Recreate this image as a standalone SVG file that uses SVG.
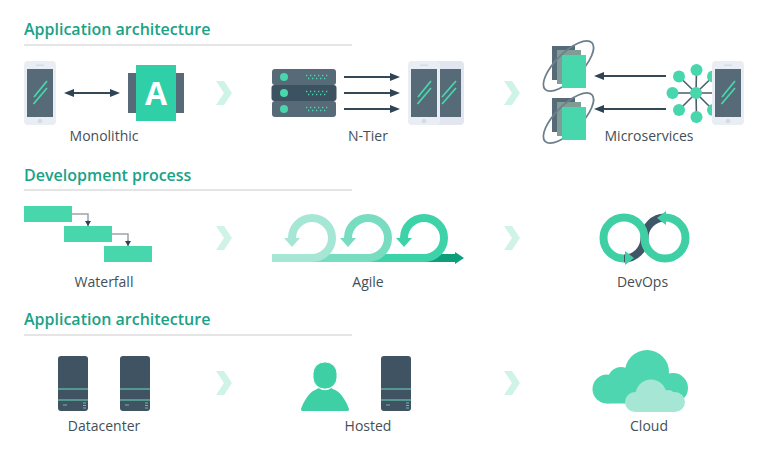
<svg xmlns="http://www.w3.org/2000/svg" xmlns:xlink="http://www.w3.org/1999/xlink" width="770" height="450" viewBox="0 0 770 450">
<style>
text{font-family:"Open Sans","Noto Sans",sans-serif}
.title{font-size:16px;font-weight:600;fill:#1aa287}
.label{font-size:14px;fill:#434f57;text-anchor:middle}
.rule{stroke:#dcdcdc;stroke-width:1.5;fill:none}
.chev{fill:#d0f3e8}
.arrow{stroke:#33495a;stroke-width:2;fill:none}
.green{fill:#48d6ad}
.slate{fill:#566a78}
</style>
<defs>
<marker id="head" markerUnits="userSpaceOnUse" markerWidth="10" markerHeight="8" refX="0" refY="4" orient="auto-start-reverse" viewBox="0 0 10 8"><path d="M0 0L10 4L0 8Z" fill="#2f4454"/></marker>
<marker id="small" markerUnits="userSpaceOnUse" markerWidth="5" markerHeight="7" refX="5" refY="3" orient="auto" viewBox="0 0 5 6"><path d="M0 0L5 3L0 6Z" fill="#2f4454"/></marker>
<g id="phone">
<rect x="0" y="0" width="32" height="64" rx="4" fill="#e9edf4"/>
<rect x="3" y="8" width="26" height="48" fill="#566a78"/>
<rect x="12" y="3.5" width="8" height="1.5" rx=".7" fill="#d5dbe4"/>
<circle cx="16" cy="60" r="2.3" fill="#d5dbe4"/>
<path d="M10 36L23 20M9.500 43L23 27" stroke="#48d6ad" stroke-width="1.800" fill="none"/>
</g>
<polygon id="chevron" points="0,0 8,0 16,12 8,24 0,24 8,12"/>
<g id="tower">
<rect width="30" height="55" rx="3" fill="#3f5362"/>
<path d="M0 33H30M0 44H30" stroke="#5fae9f" stroke-width="1.5"/>
<path d="M5 49H9M25 47H28M25 49.500H28M25 52H28" stroke="#6fbcae" stroke-width="1"/>
</g>
<g id="doc">
<rect x="0" y="0" width="23" height="34" fill="#566a78"/>
<rect x="5" y="4" width="24" height="34" fill="#7f9c96"/>
<ellipse cx="16.500" cy="20" rx="33" ry="13" transform="rotate(-45 16.500 20)" fill="none" stroke="#6c808c" stroke-width="1.800"/>
<rect x="10" y="9" width="24" height="33" fill="#48d6ad"/>
</g>
</defs>

<g id="headings">
<text class="title" x="24" y="35">Application architecture</text>
<path class="rule" d="M24 45H352"/>
<text class="title" x="24" y="181">Development process</text>
<path class="rule" d="M24 190H352"/>
<text class="title" x="24" y="325">Application architecture</text>
<path class="rule" d="M24 335H352"/>
</g>

<g id="chevrons" class="chev">
<use xlink:href="#chevron" href="#chevron" x="216" y="81"/>
<use xlink:href="#chevron" href="#chevron" x="504" y="81"/>
<use xlink:href="#chevron" href="#chevron" x="216" y="226"/>
<use xlink:href="#chevron" href="#chevron" x="504" y="226"/>
<use xlink:href="#chevron" href="#chevron" x="216" y="371"/>
<use xlink:href="#chevron" href="#chevron" x="504" y="371"/>
</g>

<g id="connectors">
<path class="arrow" d="M74 93H110" marker-start="url(#head)" marker-end="url(#head)"/>
<path class="arrow" d="M344 77H390" marker-end="url(#head)"/>
<path class="arrow" d="M344 93H390" marker-end="url(#head)"/>
<path class="arrow" d="M344 109H390" marker-end="url(#head)"/>
<path class="arrow" d="M666 76H604" marker-end="url(#head)"/>
<path class="arrow" d="M666 109H604" marker-end="url(#head)"/>
<path d="M72 214H88V220" fill="none" stroke="#9aa5ab" stroke-width="1.500"/>
<path d="M88 220V226" fill="none" stroke="#2f4454" stroke-width="1" marker-end="url(#small)"/>
<path d="M112 234H128V240" fill="none" stroke="#9aa5ab" stroke-width="1.500"/>
<path d="M128 240V246" fill="none" stroke="#2f4454" stroke-width="1" marker-end="url(#small)"/>
</g>

<g id="monolithic">
<use xlink:href="#phone" href="#phone" x="24" y="61"/>
<rect class="slate" x="128" y="73" width="56" height="40"/>
<rect x="136" y="65" width="40" height="56" fill="#2fd0a7"/>
<text x="156" y="105" font-size="32" font-weight="700" fill="#fff" text-anchor="middle">A</text>
<text class="label" x="104" y="141">Monolithic</text>
</g>

<g id="n-tier">
<rect x="272" y="69" width="64" height="16" rx="3" fill="#566a78"/>
<rect x="272" y="101" width="64" height="16" rx="3" fill="#566a78"/>
<rect x="271.500" y="85" width="65" height="16" rx="3" fill="#3d5260"/>
<g class="green">
<circle cx="284" cy="77" r="4"/><circle cx="284" cy="93" r="4"/><circle cx="284" cy="109" r="4"/>
</g>
<path d="M306 75.500H328M308 78.500H328M306 91.500H328M308 94.500H328M306 107.500H328M308 110.500H328" stroke="#48d6ad" stroke-width="1.300" stroke-dasharray="1.300 2.700" fill="none"/>
<rect x="432" y="61" width="32" height="64" rx="4" fill="#e1e6f0"/>
<rect x="438" y="69" width="23" height="48" fill="#566a78"/>
<path d="M442 97L456 81M442 104L456 88" stroke="#48d6ad" stroke-width="1.800" fill="none"/>
<use xlink:href="#phone" href="#phone" x="408" y="61"/>
<text class="label" x="368" y="141">N-Tier</text>
</g>

<g id="microservices">
<use xlink:href="#doc" href="#doc" x="552" y="46"/>
<use xlink:href="#doc" href="#doc" x="552" y="98"/>
<path d="M696 93L696.500 70M696 93L679 76.500M696 93H672.500M696 93L679 110M696 93L696.500 117M696 93L713 76.500M696 93H714M696 93L713 110" stroke="#4a5f6d" stroke-width="1.600" fill="none"/>
<g class="green">
<circle cx="696" cy="93" r="6"/><circle cx="696.500" cy="70" r="6"/><circle cx="679" cy="76.500" r="6"/><circle cx="672.500" cy="93" r="6"/><circle cx="679" cy="110" r="6"/><circle cx="696.500" cy="117" r="6"/><circle cx="713" cy="76.500" r="6"/><circle cx="713" cy="110" r="6"/>
</g>
<use xlink:href="#phone" href="#phone" x="712" y="61"/>
<text class="label" x="649" y="141">Microservices</text>
</g>

<g id="waterfall">
<rect class="green" x="24" y="206" width="48" height="16"/>
<rect class="green" x="64" y="226" width="48" height="16"/>
<rect class="green" x="104" y="246" width="48" height="16"/>
<text class="label" x="104" y="287">Waterfall</text>
</g>

<g id="agile" fill="none" stroke-width="8">
<path d="M424 258H456" stroke="#0f9e7c"/>
<polygon points="455,252 464,258 455,264" fill="#0f9e7c"/>
<path d="M404 238A20 20 0 1 1 424 258H368" stroke="#3ed2a8"/>
<polygon points="396,238 412,238 404,247" fill="#3ed2a8"/>
<path d="M348 238A20 20 0 1 1 368 258H312" stroke="#78ddc0"/>
<polygon points="340,238 356,238 348,247" fill="#78ddc0"/>
<path d="M292 238A20 20 0 1 1 312 258H272" stroke="#a6e6d5"/>
<polygon points="284,238 300,238 292,247" fill="#a6e6d5"/>
<text class="label" x="368" y="287" stroke="none">Agile</text>
</g>

<g id="devops" fill="none" stroke-width="8">
<path d="M624 258.500A20.500 20.500 0 0 0 644.500 238A20.500 20.500 0 0 1 665 217.500" stroke="#3f5666"/>
<path d="M624 258.500A20.500 20.500 0 1 1 644.500 238A20.500 20.500 0 1 0 665 217.500" stroke="#3ecfa5"/>
<polygon points="625,251 634,258 625,265" fill="#3ecfa5"/>
<polygon points="666,211 657,218 666,225" fill="#3ecfa5"/>
<text class="label" x="642.500" y="287" stroke="none">DevOps</text>
</g>

<g id="datacenter">
<use xlink:href="#tower" href="#tower" x="58" y="356"/>
<use xlink:href="#tower" href="#tower" x="120" y="356"/>
<text class="label" x="104" y="431">Datacenter</text>
</g>

<g id="hosted">
<path d="M301 409C303 403 308 394 313 391L319 388C322 391 328 391 331 388L337 391C342 394 347 403 349 409C349 411 348 411 346 411H304C302 411 301 411 301 409Z" fill="#3ecfa5"/>
<rect x="313" y="362" width="24" height="27" rx="11.500" fill="#3ecfa5" stroke="#fff" stroke-width="1"/>
<use xlink:href="#tower" href="#tower" x="381" y="356"/>
<text class="label" x="368" y="431">Hosted</text>
</g>

<g id="cloud">
<g fill="#4dd6af">
<circle cx="647" cy="372" r="22"/>
<circle cx="607" cy="389" r="14.500"/>
<circle cx="621" cy="380" r="13"/>
<circle cx="673" cy="388" r="15"/>
<rect x="607" y="385" width="66" height="18.500"/>
</g>
<g fill="#a6e6d5">
<circle cx="651" cy="395" r="15.500"/>
<circle cx="635" cy="402" r="10"/>
<circle cx="675" cy="402" r="10"/>
<circle cx="668" cy="398" r="8"/>
<rect x="635" y="400" width="40" height="12"/>
</g>
<text class="label" x="649" y="431">Cloud</text>
</g>
</svg>
